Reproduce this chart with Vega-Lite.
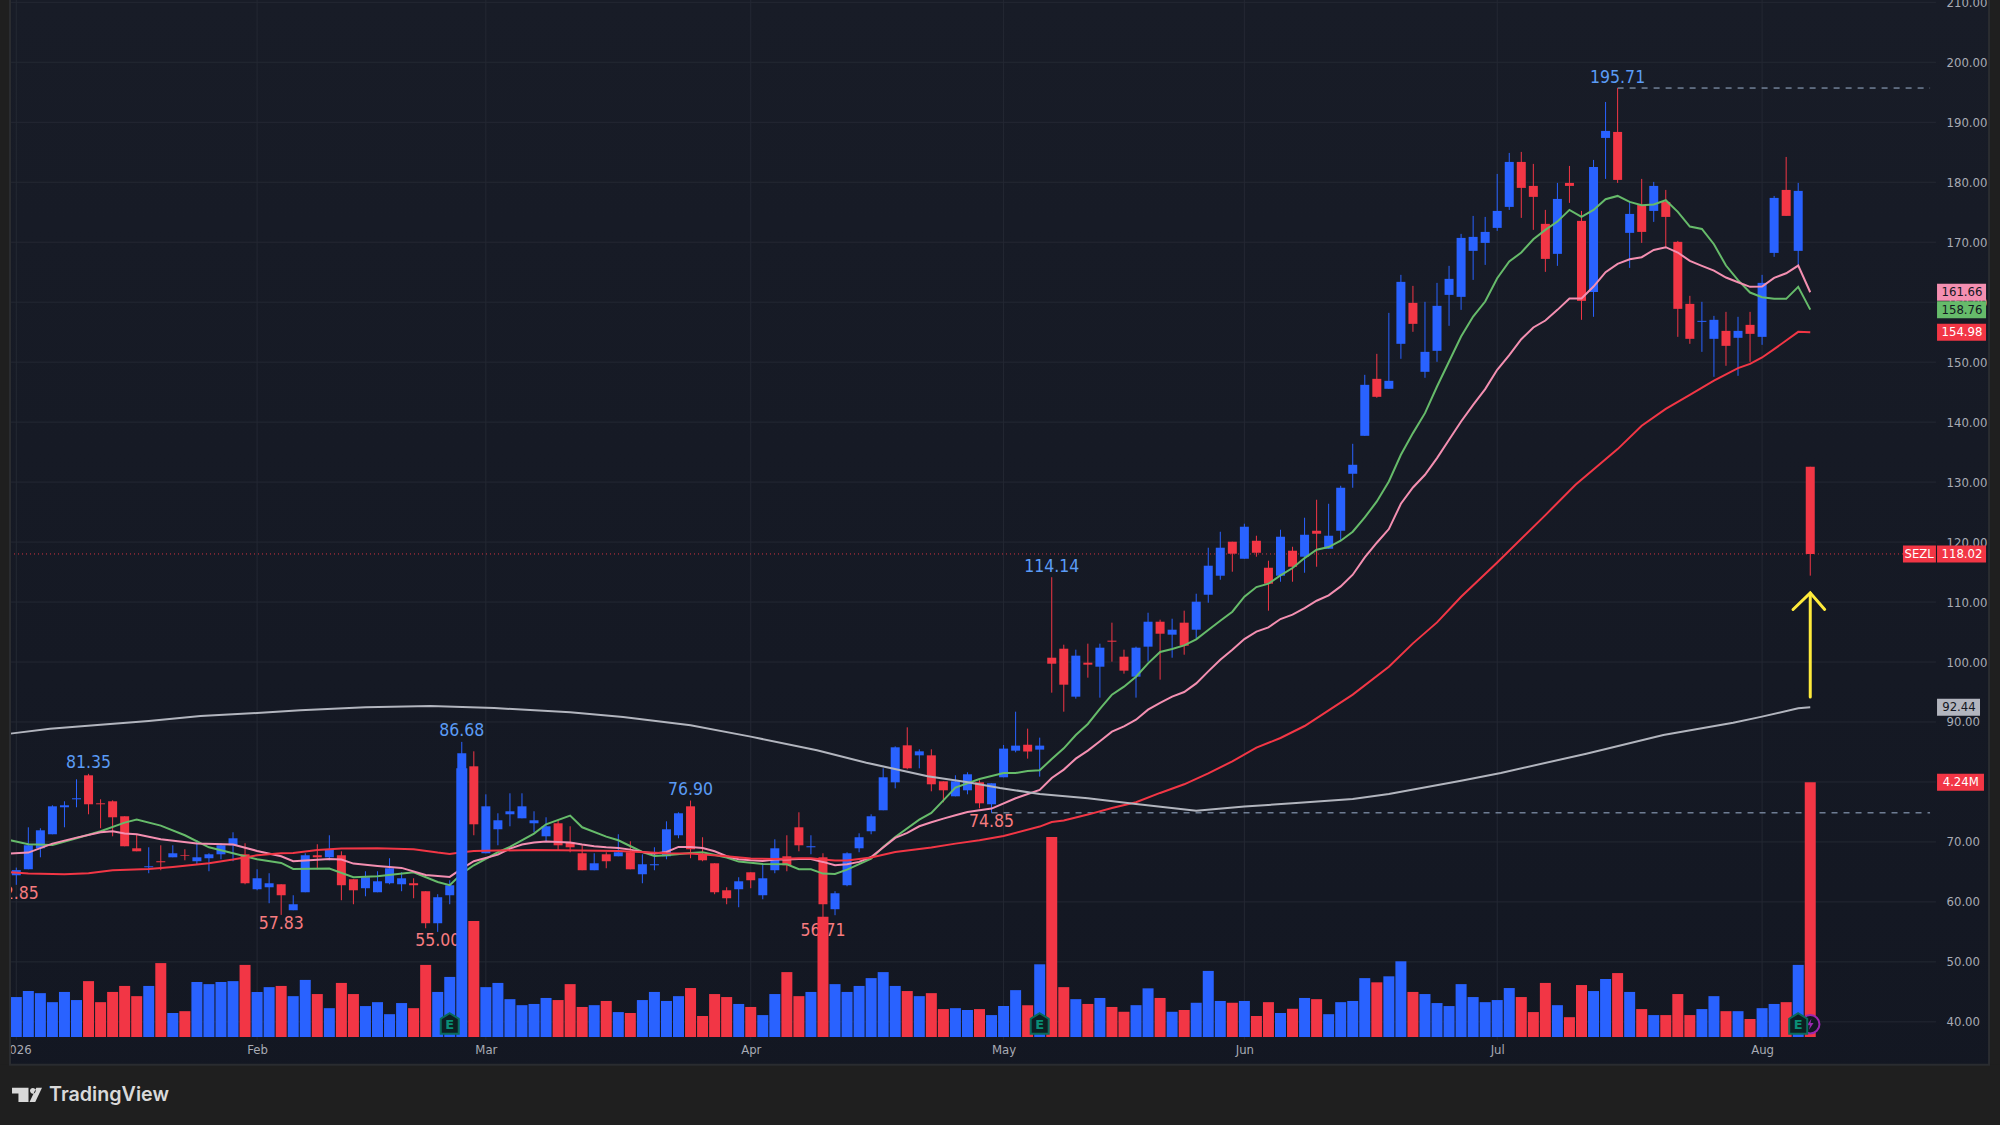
{
"$schema":"https://vega.github.io/schema/vega-lite/v6.json",
"width":2000,"height":1125,"padding":0,"autosize":{"type":"none"},
"background":"#1f1f1f",
"view":{"stroke":null,"fill":{"gradient":"linear","x1":0,"y1":0,"x2":0,"y2":1,"stops":[{"offset":0,"color":"#181c27"},{"offset":1,"color":"#131722"}]}},
"config":{"font":"DejaVu Sans Condensed"},
"datasets":{
"bars":[
{"bar":0,"open":64.44,"high":65.72,"low":62.85,"close":65.3,"volume":0.665},
{"bar":1,"open":65.44,"high":72.44,"low":65.44,"close":69.44,"volume":0.765},
{"bar":2,"open":68.94,"high":72.28,"low":67.44,"close":71.94,"volume":0.73},
{"bar":3,"open":71.28,"high":76.11,"low":71.28,"close":75.94,"volume":0.58},
{"bar":4,"open":75.78,"high":76.78,"low":72.44,"close":76.11,"volume":0.75},
{"bar":5,"open":77.11,"high":80.44,"low":75.78,"close":77.28,"volume":0.615},
{"bar":6,"open":81.11,"high":81.35,"low":74.61,"close":76.28,"volume":0.93},
{"bar":7,"open":76.44,"high":77.11,"low":72.28,"close":76.28,"volume":0.58},
{"bar":8,"open":76.78,"high":76.94,"low":70.94,"close":74.11,"volume":0.75},
{"bar":9,"open":74.28,"high":74.28,"low":69.28,"close":69.28,"volume":0.85},
{"bar":10,"open":68.94,"high":71.28,"low":68.44,"close":68.44,"volume":0.68},
{"bar":11,"open":65.78,"high":69.11,"low":64.78,"close":65.94,"volume":0.85},
{"bar":12,"open":66.78,"high":69.44,"low":65.28,"close":66.61,"volume":1.23},
{"bar":13,"open":67.44,"high":69.44,"low":67.44,"close":68.11,"volume":0.4},
{"bar":14,"open":67.78,"high":68.78,"low":66.94,"close":67.67,"volume":0.43},
{"bar":15,"open":66.78,"high":70.28,"low":66.28,"close":67.44,"volume":0.915},
{"bar":16,"open":67.28,"high":68.11,"low":65.11,"close":67.94,"volume":0.88},
{"bar":17,"open":67.94,"high":69.78,"low":67.11,"close":69.44,"volume":0.915},
{"bar":18,"open":69.44,"high":71.61,"low":66.78,"close":70.61,"volume":0.93},
{"bar":19,"open":67.94,"high":69.78,"low":62.94,"close":63.11,"volume":1.2},
{"bar":20,"open":62.11,"high":65.44,"low":61.94,"close":63.94,"volume":0.75},
{"bar":21,"open":62.44,"high":64.78,"low":59.78,"close":63.11,"volume":0.83},
{"bar":22,"open":62.94,"high":62.94,"low":57.83,"close":61.11,"volume":0.85},
{"bar":23,"open":58.61,"high":61.11,"low":58.61,"close":59.61,"volume":0.68},
{"bar":24,"open":61.61,"high":68.11,"low":61.61,"close":67.78,"volume":0.95},
{"bar":25,"open":67.78,"high":69.61,"low":65.44,"close":67.44,"volume":0.715},
{"bar":26,"open":67.44,"high":71.11,"low":66.94,"close":68.78,"volume":0.48},
{"bar":27,"open":67.78,"high":68.44,"low":60.28,"close":62.78,"volume":0.9},
{"bar":28,"open":63.78,"high":63.78,"low":59.61,"close":61.94,"volume":0.715},
{"bar":29,"open":62.28,"high":65.11,"low":60.94,"close":64.11,"volume":0.515},
{"bar":30,"open":61.61,"high":65.11,"low":61.61,"close":63.44,"volume":0.58},
{"bar":31,"open":63.11,"high":67.28,"low":62.94,"close":65.61,"volume":0.38},
{"bar":32,"open":62.94,"high":64.94,"low":61.78,"close":63.94,"volume":0.565},
{"bar":33,"open":63.11,"high":63.94,"low":60.61,"close":62.78,"volume":0.48},
{"bar":34,"open":61.78,"high":61.78,"low":55.61,"close":56.44,"volume":1.2},
{"bar":35,"open":56.44,"high":61.28,"low":55.0,"close":60.78,"volume":0.75},
{"bar":36,"open":61.11,"high":63.61,"low":59.61,"close":62.78,"volume":1.0},
{"bar":37,"open":62.5,"high":86.68,"low":60.0,"close":84.78,"volume":4.47},
{"bar":38,"open":82.61,"high":85.11,"low":71.11,"close":72.94,"volume":1.93},
{"bar":39,"open":68.11,"high":77.94,"low":68.11,"close":75.94,"volume":0.83},
{"bar":40,"open":72.11,"high":74.78,"low":69.44,"close":73.61,"volume":0.9},
{"bar":41,"open":74.61,"high":78.11,"low":72.61,"close":75.11,"volume":0.63},
{"bar":42,"open":73.94,"high":78.11,"low":73.94,"close":75.94,"volume":0.53},
{"bar":43,"open":73.11,"high":75.11,"low":71.61,"close":73.61,"volume":0.55},
{"bar":44,"open":70.94,"high":74.11,"low":70.11,"close":72.61,"volume":0.65},
{"bar":45,"open":73.11,"high":73.61,"low":68.61,"close":69.44,"volume":0.615},
{"bar":46,"open":69.94,"high":72.61,"low":68.28,"close":69.11,"volume":0.88},
{"bar":47,"open":68.11,"high":69.44,"low":65.28,"close":65.28,"volume":0.5},
{"bar":48,"open":65.28,"high":68.11,"low":65.28,"close":66.44,"volume":0.53},
{"bar":49,"open":67.94,"high":68.28,"low":65.61,"close":66.78,"volume":0.6},
{"bar":50,"open":67.61,"high":71.28,"low":67.61,"close":68.28,"volume":0.415},
{"bar":51,"open":68.28,"high":70.11,"low":65.44,"close":65.44,"volume":0.4},
{"bar":52,"open":64.61,"high":67.94,"low":63.11,"close":66.28,"volume":0.615},
{"bar":53,"open":66.11,"high":69.11,"low":65.28,"close":66.28,"volume":0.75},
{"bar":54,"open":67.61,"high":73.44,"low":67.11,"close":72.11,"volume":0.6},
{"bar":55,"open":71.11,"high":74.94,"low":70.61,"close":74.78,"volume":0.68},
{"bar":56,"open":75.94,"high":76.9,"low":67.28,"close":68.78,"volume":0.815},
{"bar":57,"open":67.94,"high":70.78,"low":66.78,"close":66.94,"volume":0.35},
{"bar":58,"open":66.44,"high":66.44,"low":61.28,"close":61.61,"volume":0.715},
{"bar":59,"open":61.94,"high":62.44,"low":59.61,"close":60.61,"volume":0.665},
{"bar":60,"open":62.11,"high":64.11,"low":59.11,"close":63.44,"volume":0.55},
{"bar":61,"open":64.94,"high":64.94,"low":62.28,"close":63.61,"volume":0.5},
{"bar":62,"open":61.11,"high":66.28,"low":60.44,"close":63.94,"volume":0.365},
{"bar":63,"open":65.28,"high":70.44,"low":64.78,"close":68.94,"volume":0.715},
{"bar":64,"open":67.61,"high":71.11,"low":65.11,"close":66.11,"volume":1.08},
{"bar":65,"open":72.44,"high":74.94,"low":68.44,"close":69.44,"volume":0.68},
{"bar":66,"open":69.11,"high":71.11,"low":67.94,"close":69.28,"volume":0.75},
{"bar":67,"open":67.44,"high":68.11,"low":56.71,"close":59.61,"volume":2.0},
{"bar":68,"open":58.78,"high":61.78,"low":57.78,"close":61.44,"volume":0.88},
{"bar":69,"open":62.78,"high":68.28,"low":62.61,"close":68.11,"volume":0.75},
{"bar":70,"open":68.94,"high":71.44,"low":68.28,"close":70.78,"volume":0.85},
{"bar":71,"open":71.78,"high":74.61,"low":71.28,"close":74.28,"volume":0.98},
{"bar":72,"open":75.28,"high":82.28,"low":75.28,"close":80.78,"volume":1.08},
{"bar":73,"open":79.94,"high":85.94,"low":78.94,"close":85.78,"volume":0.85},
{"bar":74,"open":86.11,"high":89.11,"low":82.11,"close":82.28,"volume":0.765},
{"bar":75,"open":84.44,"high":85.44,"low":82.28,"close":85.11,"volume":0.68},
{"bar":76,"open":84.44,"high":85.44,"low":78.44,"close":79.61,"volume":0.73},
{"bar":77,"open":80.11,"high":80.11,"low":76.61,"close":78.61,"volume":0.465},
{"bar":78,"open":77.61,"high":81.11,"low":77.61,"close":80.11,"volume":0.48},
{"bar":79,"open":78.61,"high":81.61,"low":77.94,"close":81.28,"volume":0.45},
{"bar":80,"open":79.94,"high":80.28,"low":75.61,"close":76.44,"volume":0.465},
{"bar":81,"open":76.28,"high":79.78,"low":74.85,"close":79.78,"volume":0.365},
{"bar":82,"open":80.78,"high":86.17,"low":80.78,"close":85.56,"volume":0.516},
{"bar":83,"open":85.22,"high":91.72,"low":84.94,"close":86.06,"volume":0.78},
{"bar":84,"open":86.22,"high":88.89,"low":83.89,"close":85.06,"volume":0.53},
{"bar":85,"open":85.39,"high":87.39,"low":80.89,"close":86.06,"volume":1.21},
{"bar":86,"open":100.72,"high":114.14,"low":94.89,"close":99.72,"volume":3.33},
{"bar":87,"open":102.22,"high":102.89,"low":91.72,"close":96.22,"volume":0.83},
{"bar":88,"open":94.22,"high":102.06,"low":93.89,"close":101.06,"volume":0.63},
{"bar":89,"open":99.89,"high":103.06,"low":97.39,"close":99.56,"volume":0.55},
{"bar":90,"open":99.22,"high":103.06,"low":94.06,"close":102.39,"volume":0.65},
{"bar":91,"open":103.56,"high":106.56,"low":100.06,"close":103.39,"volume":0.5},
{"bar":92,"open":100.89,"high":102.06,"low":98.06,"close":98.56,"volume":0.42},
{"bar":93,"open":97.56,"high":102.56,"low":94.06,"close":102.39,"volume":0.53},
{"bar":94,"open":102.56,"high":108.22,"low":100.06,"close":106.72,"volume":0.81},
{"bar":95,"open":106.72,"high":107.06,"low":97.06,"close":104.72,"volume":0.65},
{"bar":96,"open":104.56,"high":107.22,"low":100.72,"close":105.39,"volume":0.42},
{"bar":97,"open":106.56,"high":108.56,"low":101.22,"close":102.72,"volume":0.45},
{"bar":98,"open":105.39,"high":111.39,"low":103.89,"close":110.06,"volume":0.57},
{"bar":99,"open":111.22,"high":119.06,"low":109.89,"close":116.06,"volume":1.1},
{"bar":100,"open":114.39,"high":121.72,"low":113.72,"close":119.06,"volume":0.6},
{"bar":101,"open":120.06,"high":120.06,"low":115.06,"close":118.06,"volume":0.57},
{"bar":102,"open":117.22,"high":123.06,"low":117.22,"close":122.56,"volume":0.6},
{"bar":103,"open":120.22,"high":121.06,"low":117.56,"close":118.22,"volume":0.35},
{"bar":104,"open":115.72,"high":116.89,"low":108.56,"close":113.06,"volume":0.58},
{"bar":105,"open":114.39,"high":122.06,"low":113.39,"close":120.89,"volume":0.4},
{"bar":106,"open":118.56,"high":119.22,"low":113.39,"close":115.89,"volume":0.47},
{"bar":107,"open":117.56,"high":124.06,"low":114.89,"close":121.22,"volume":0.65},
{"bar":108,"open":121.89,"high":127.06,"low":115.89,"close":121.39,"volume":0.63},
{"bar":109,"open":118.89,"high":126.39,"low":118.89,"close":121.06,"volume":0.38},
{"bar":110,"open":121.89,"high":129.39,"low":120.22,"close":129.06,"volume":0.58},
{"bar":111,"open":131.39,"high":136.39,"low":129.06,"close":132.89,"volume":0.6},
{"bar":112,"open":137.72,"high":147.89,"low":137.72,"close":146.22,"volume":0.98},
{"bar":113,"open":147.22,"high":151.39,"low":144.06,"close":144.22,"volume":0.91},
{"bar":114,"open":145.56,"high":158.22,"low":145.56,"close":146.89,"volume":1.01},
{"bar":115,"open":153.06,"high":164.56,"low":150.56,"close":163.39,"volume":1.26},
{"bar":116,"open":159.89,"high":162.72,"low":155.06,"close":156.39,"volume":0.75},
{"bar":117,"open":148.39,"high":160.06,"low":147.39,"close":151.72,"volume":0.715},
{"bar":118,"open":151.89,"high":163.22,"low":150.06,"close":159.39,"volume":0.565},
{"bar":119,"open":161.22,"high":166.06,"low":156.06,"close":163.89,"volume":0.515},
{"bar":120,"open":160.89,"high":171.39,"low":158.72,"close":170.72,"volume":0.88},
{"bar":121,"open":168.56,"high":174.39,"low":163.72,"close":170.89,"volume":0.665},
{"bar":122,"open":169.89,"high":174.22,"low":166.22,"close":171.72,"volume":0.58},
{"bar":123,"open":172.39,"high":181.39,"low":171.89,"close":175.22,"volume":0.615},
{"bar":124,"open":175.89,"high":184.89,"low":175.39,"close":183.39,"volume":0.815},
{"bar":125,"open":183.39,"high":185.06,"low":174.06,"close":179.06,"volume":0.665},
{"bar":126,"open":179.39,"high":183.06,"low":172.06,"close":177.56,"volume":0.415},
{"bar":127,"open":173.06,"high":175.39,"low":165.06,"close":167.22,"volume":0.9},
{"bar":128,"open":168.06,"high":179.89,"low":166.06,"close":177.22,"volume":0.53},
{"bar":129,"open":179.89,"high":182.72,"low":176.56,"close":179.39,"volume":0.33},
{"bar":130,"open":173.56,"high":175.22,"low":157.06,"close":160.22,"volume":0.865},
{"bar":131,"open":161.72,"high":183.72,"low":157.56,"close":182.56,"volume":0.765},
{"bar":132,"open":187.39,"high":193.39,"low":180.56,"close":188.56,"volume":0.965},
{"bar":133,"open":188.39,"high":195.71,"low":179.89,"close":180.39,"volume":1.064},
{"bar":134,"open":171.56,"high":176.72,"low":165.72,"close":174.72,"volume":0.75},
{"bar":135,"open":176.22,"high":180.56,"low":169.89,"close":171.72,"volume":0.465},
{"bar":136,"open":175.22,"high":180.06,"low":173.39,"close":179.39,"volume":0.365},
{"bar":137,"open":176.72,"high":178.72,"low":169.22,"close":174.22,"volume":0.365},
{"bar":138,"open":170.06,"high":170.22,"low":154.22,"close":158.89,"volume":0.715},
{"bar":139,"open":159.72,"high":161.06,"low":153.06,"close":153.89,"volume":0.365},
{"bar":140,"open":156.72,"high":160.06,"low":151.72,"close":156.89,"volume":0.465},
{"bar":141,"open":153.89,"high":157.72,"low":147.56,"close":157.06,"volume":0.68},
{"bar":142,"open":155.22,"high":158.39,"low":149.39,"close":152.72,"volume":0.43},
{"bar":143,"open":154.06,"high":157.56,"low":147.72,"close":155.22,"volume":0.43},
{"bar":144,"open":156.22,"high":158.39,"low":150.06,"close":154.72,"volume":0.3},
{"bar":145,"open":154.22,"high":164.56,"low":152.89,"close":163.22,"volume":0.48},
{"bar":146,"open":168.22,"high":177.72,"low":167.56,"close":177.39,"volume":0.55},
{"bar":147,"open":178.72,"high":184.22,"low":174.39,"close":174.39,"volume":0.58},
{"bar":148,"open":168.56,"high":179.89,"low":166.06,"close":178.56,"volume":1.2},
{"bar":149,"open":132.56,"high":132.56,"low":114.4,"close":118.02,"volume":4.24}
],
"ma":[
{"s":"g","bar":-0.5,"v":70.28},{"s":"g","bar":1,"v":69.61},{"s":"g","bar":3,"v":69.5},{"s":"g","bar":5,"v":70.61},{"s":"g","bar":7,"v":71.78},{"s":"g","bar":9,"v":73.22},{"s":"g","bar":10,"v":73.72},{"s":"g","bar":12,"v":72.72},{"s":"g","bar":14,"v":71.11},{"s":"g","bar":16,"v":69.11},{"s":"g","bar":18,"v":68.11},{"s":"g","bar":20,"v":67.11},{"s":"g","bar":22,"v":66.5},{"s":"g","bar":23,"v":65.5},{"s":"g","bar":26,"v":65.56},{"s":"g","bar":28,"v":64.11},{"s":"g","bar":30,"v":64.28},{"s":"g","bar":33,"v":64.94},{"s":"g","bar":35,"v":63.33},{"s":"g","bar":36,"v":62.78},{"s":"g","bar":37,"v":64.72},{"s":"g","bar":38,"v":66.11},{"s":"g","bar":40,"v":68.28},{"s":"g","bar":41,"v":69.17},{"s":"g","bar":43,"v":71.39},{"s":"g","bar":44,"v":72.94},{"s":"g","bar":46,"v":74.39},{"s":"g","bar":47,"v":72.44},{"s":"g","bar":49,"v":70.89},{"s":"g","bar":50,"v":70.28},{"s":"g","bar":52,"v":68.33},{"s":"g","bar":53,"v":67.67},{"s":"g","bar":54,"v":67.78},{"s":"g","bar":56,"v":68.17},{"s":"g","bar":57,"v":68.28},{"s":"g","bar":59,"v":67.39},{"s":"g","bar":60,"v":66.72},{"s":"g","bar":62,"v":66.33},{"s":"g","bar":64,"v":66.28},{"s":"g","bar":65,"v":65.44},{"s":"g","bar":66,"v":65.44},{"s":"g","bar":67,"v":64.72},{"s":"g","bar":68,"v":64.67},{"s":"g","bar":69,"v":65.39},{"s":"g","bar":71,"v":67.22},{"s":"g","bar":72,"v":69.17},{"s":"g","bar":73,"v":70.83},{"s":"g","bar":75,"v":73.72},{"s":"g","bar":76,"v":74.83},{"s":"g","bar":77,"v":76.94},{"s":"g","bar":78,"v":79.06},{"s":"g","bar":80,"v":80.5},{"s":"g","bar":82,"v":81.5},{"s":"g","bar":83,"v":81.5},{"s":"g","bar":84,"v":81.83},{"s":"g","bar":85,"v":81.94},{"s":"g","bar":86,"v":83.83},{"s":"g","bar":87,"v":85.61},{"s":"g","bar":88,"v":87.83},{"s":"g","bar":89,"v":89.67},{"s":"g","bar":90,"v":92.17},{"s":"g","bar":91,"v":94.56},{"s":"g","bar":92,"v":95.89},{"s":"g","bar":93,"v":97.56},{"s":"g","bar":94,"v":99.78},{"s":"g","bar":95,"v":101.67},{"s":"g","bar":96,"v":102.17},{"s":"g","bar":97,"v":102.78},{"s":"g","bar":98,"v":103.78},{"s":"g","bar":99,"v":105.33},{"s":"g","bar":100,"v":106.89},{"s":"g","bar":101,"v":108.39},{"s":"g","bar":102,"v":110.89},{"s":"g","bar":103,"v":112.5},{"s":"g","bar":104,"v":113.06},{"s":"g","bar":105,"v":114.44},{"s":"g","bar":106,"v":115.67},{"s":"g","bar":107,"v":117.33},{"s":"g","bar":108,"v":118.72},{"s":"g","bar":109,"v":119.17},{"s":"g","bar":110,"v":120.22},{"s":"g","bar":111,"v":121.72},{"s":"g","bar":112,"v":124.11},{"s":"g","bar":113,"v":126.78},{"s":"g","bar":114,"v":130.11},{"s":"g","bar":115,"v":134.56},{"s":"g","bar":116,"v":138.17},{"s":"g","bar":117,"v":141.5},{"s":"g","bar":118,"v":145.94},{"s":"g","bar":119,"v":150.11},{"s":"g","bar":120,"v":154.28},{"s":"g","bar":121,"v":157.61},{"s":"g","bar":122,"v":160.11},{"s":"g","bar":123,"v":164},{"s":"g","bar":124,"v":166.78},{"s":"g","bar":125,"v":168.28},{"s":"g","bar":126,"v":170.5},{"s":"g","bar":127,"v":172.06},{"s":"g","bar":128,"v":173.44},{"s":"g","bar":129,"v":175.39},{"s":"g","bar":130,"v":174.22},{"s":"g","bar":131,"v":175.39},{"s":"g","bar":132,"v":177.17},{"s":"g","bar":133,"v":177.72},{"s":"g","bar":134,"v":176.72},{"s":"g","bar":135,"v":176.17},{"s":"g","bar":136,"v":176.28},{"s":"g","bar":137,"v":177},{"s":"g","bar":138,"v":175.06},{"s":"g","bar":139,"v":172.61},{"s":"g","bar":140,"v":172.22},{"s":"g","bar":141,"v":169.67},{"s":"g","bar":142,"v":166.11},{"s":"g","bar":143,"v":163.67},{"s":"g","bar":144,"v":161.61},{"s":"g","bar":145,"v":160.83},{"s":"g","bar":146,"v":160.56},{"s":"g","bar":147,"v":160.56},{"s":"g","bar":148,"v":162.56},{"s":"g","bar":149,"v":158.76},
{"s":"p","bar":-0.5,"v":68.06},{"s":"p","bar":1,"v":68.22},{"s":"p","bar":3,"v":69.72},{"s":"p","bar":5,"v":70.72},{"s":"p","bar":7,"v":71.61},{"s":"p","bar":8,"v":71.78},{"s":"p","bar":9,"v":71.39},{"s":"p","bar":10,"v":71.28},{"s":"p","bar":12,"v":70.44},{"s":"p","bar":15,"v":69.72},{"s":"p","bar":18,"v":69.56},{"s":"p","bar":20,"v":68.5},{"s":"p","bar":22,"v":67.61},{"s":"p","bar":23,"v":66.78},{"s":"p","bar":26,"v":67.17},{"s":"p","bar":27,"v":67.06},{"s":"p","bar":28,"v":66.39},{"s":"p","bar":30,"v":66},{"s":"p","bar":32,"v":65.67},{"s":"p","bar":34,"v":64.5},{"s":"p","bar":36,"v":64.17},{"s":"p","bar":37,"v":65.56},{"s":"p","bar":38,"v":66.78},{"s":"p","bar":40,"v":67.89},{"s":"p","bar":41,"v":68.89},{"s":"p","bar":42,"v":69.56},{"s":"p","bar":43,"v":69.89},{"s":"p","bar":44,"v":70.06},{"s":"p","bar":45,"v":70},{"s":"p","bar":46,"v":69.89},{"s":"p","bar":47,"v":69.56},{"s":"p","bar":48,"v":69.28},{"s":"p","bar":49,"v":69.11},{"s":"p","bar":50,"v":69},{"s":"p","bar":51,"v":68.72},{"s":"p","bar":52,"v":68.33},{"s":"p","bar":53,"v":68.06},{"s":"p","bar":54,"v":68.33},{"s":"p","bar":55,"v":69.17},{"s":"p","bar":56,"v":69.17},{"s":"p","bar":57,"v":69},{"s":"p","bar":58,"v":68.44},{"s":"p","bar":59,"v":67.61},{"s":"p","bar":60,"v":67.11},{"s":"p","bar":61,"v":66.94},{"s":"p","bar":62,"v":66.83},{"s":"p","bar":63,"v":67.06},{"s":"p","bar":64,"v":67.06},{"s":"p","bar":65,"v":67.17},{"s":"p","bar":66,"v":67.17},{"s":"p","bar":67,"v":66.67},{"s":"p","bar":68,"v":66.11},{"s":"p","bar":69,"v":66.28},{"s":"p","bar":70,"v":66.67},{"s":"p","bar":71,"v":67.5},{"s":"p","bar":72,"v":69.06},{"s":"p","bar":73,"v":70.67},{"s":"p","bar":74,"v":71.5},{"s":"p","bar":75,"v":72.61},{"s":"p","bar":76,"v":73.28},{"s":"p","bar":77,"v":73.89},{"s":"p","bar":78,"v":74.44},{"s":"p","bar":79,"v":75},{"s":"p","bar":80,"v":75.28},{"s":"p","bar":81,"v":75.56},{"s":"p","bar":83,"v":77.28},{"s":"p","bar":85,"v":78.67},{"s":"p","bar":86,"v":80.67},{"s":"p","bar":87,"v":82.06},{"s":"p","bar":88,"v":83.89},{"s":"p","bar":89,"v":85.22},{"s":"p","bar":90,"v":86.78},{"s":"p","bar":91,"v":88.39},{"s":"p","bar":92,"v":89.28},{"s":"p","bar":93,"v":90.39},{"s":"p","bar":94,"v":92.06},{"s":"p","bar":95,"v":93.17},{"s":"p","bar":96,"v":94.22},{"s":"p","bar":97,"v":95},{"s":"p","bar":98,"v":96.44},{"s":"p","bar":99,"v":98.44},{"s":"p","bar":100,"v":100.39},{"s":"p","bar":101,"v":102.06},{"s":"p","bar":102,"v":103.83},{"s":"p","bar":103,"v":105.06},{"s":"p","bar":104,"v":105.78},{"s":"p","bar":105,"v":107.17},{"s":"p","bar":106,"v":107.89},{"s":"p","bar":107,"v":109},{"s":"p","bar":108,"v":110.22},{"s":"p","bar":109,"v":111.11},{"s":"p","bar":110,"v":112.61},{"s":"p","bar":111,"v":114.56},{"s":"p","bar":112,"v":117.44},{"s":"p","bar":113,"v":119.89},{"s":"p","bar":114,"v":122.17},{"s":"p","bar":115,"v":126.39},{"s":"p","bar":116,"v":129.11},{"s":"p","bar":117,"v":131.22},{"s":"p","bar":118,"v":134},{"s":"p","bar":119,"v":137.06},{"s":"p","bar":120,"v":140.11},{"s":"p","bar":121,"v":142.89},{"s":"p","bar":122,"v":145.5},{"s":"p","bar":123,"v":148.72},{"s":"p","bar":124,"v":151.17},{"s":"p","bar":125,"v":153.83},{"s":"p","bar":126,"v":155.78},{"s":"p","bar":127,"v":156.94},{"s":"p","bar":128,"v":158.72},{"s":"p","bar":129,"v":160.61},{"s":"p","bar":130,"v":160.61},{"s":"p","bar":131,"v":162.61},{"s":"p","bar":132,"v":165},{"s":"p","bar":133,"v":166.39},{"s":"p","bar":134,"v":167.17},{"s":"p","bar":135,"v":167.5},{"s":"p","bar":136,"v":168.72},{"s":"p","bar":137,"v":169.17},{"s":"p","bar":138,"v":168.28},{"s":"p","bar":139,"v":166.89},{"s":"p","bar":140,"v":166.06},{"s":"p","bar":141,"v":165.28},{"s":"p","bar":142,"v":164.11},{"s":"p","bar":143,"v":163.33},{"s":"p","bar":144,"v":162.56},{"s":"p","bar":145,"v":162.61},{"s":"p","bar":146,"v":164.06},{"s":"p","bar":147,"v":164.83},{"s":"p","bar":148,"v":166.11},{"s":"p","bar":149,"v":161.66},
{"s":"r","bar":-0.5,"v":64.94},{"s":"r","bar":1,"v":64.72},{"s":"r","bar":4,"v":64.61},{"s":"r","bar":6,"v":64.78},{"s":"r","bar":8,"v":65.28},{"s":"r","bar":11,"v":65.5},{"s":"r","bar":13,"v":65.83},{"s":"r","bar":16,"v":66.44},{"s":"r","bar":18,"v":67.06},{"s":"r","bar":20,"v":67.78},{"s":"r","bar":22,"v":68.11},{"s":"r","bar":23,"v":68.17},{"s":"r","bar":25,"v":68.67},{"s":"r","bar":27,"v":68.89},{"s":"r","bar":30,"v":68.94},{"s":"r","bar":33,"v":68.78},{"s":"r","bar":35,"v":68.22},{"s":"r","bar":36,"v":68},{"s":"r","bar":37,"v":68.28},{"s":"r","bar":38,"v":68.5},{"s":"r","bar":40,"v":68.56},{"s":"r","bar":43,"v":68.67},{"s":"r","bar":47,"v":68.56},{"s":"r","bar":50,"v":68.5},{"s":"r","bar":54,"v":68.11},{"s":"r","bar":56,"v":68.06},{"s":"r","bar":59,"v":67.61},{"s":"r","bar":61,"v":67.22},{"s":"r","bar":63,"v":67.17},{"s":"r","bar":65,"v":67.28},{"s":"r","bar":66,"v":67.28},{"s":"r","bar":67,"v":67.06},{"s":"r","bar":68,"v":66.89},{"s":"r","bar":69,"v":66.89},{"s":"r","bar":71,"v":67.39},{"s":"r","bar":73,"v":68.33},{"s":"r","bar":76,"v":69.06},{"s":"r","bar":78,"v":69.72},{"s":"r","bar":80,"v":70.28},{"s":"r","bar":82,"v":71},{"s":"r","bar":85,"v":72.56},{"s":"r","bar":86,"v":73.33},{"s":"r","bar":87,"v":73.56},{"s":"r","bar":89,"v":74.56},{"s":"r","bar":91,"v":75.67},{"s":"r","bar":93,"v":76.61},{"s":"r","bar":95,"v":78.17},{"s":"r","bar":97,"v":79.61},{"s":"r","bar":99,"v":81.44},{"s":"r","bar":101,"v":83.44},{"s":"r","bar":103,"v":85.72},{"s":"r","bar":105,"v":87.33},{"s":"r","bar":107,"v":89.33},{"s":"r","bar":109,"v":91.94},{"s":"r","bar":111,"v":94.56},{"s":"r","bar":114,"v":99.22},{"s":"r","bar":116,"v":103.11},{"s":"r","bar":118,"v":106.61},{"s":"r","bar":120,"v":110.89},{"s":"r","bar":123,"v":116.61},{"s":"r","bar":127,"v":124.5},{"s":"r","bar":129.5,"v":129.56},{"s":"r","bar":133,"v":135.5},{"s":"r","bar":135,"v":139.39},{"s":"r","bar":137,"v":142.22},{"s":"r","bar":139,"v":144.56},{"s":"r","bar":141,"v":146.94},{"s":"r","bar":143,"v":149},{"s":"r","bar":144,"v":149.72},{"s":"r","bar":145,"v":150.78},{"s":"r","bar":146,"v":152.17},{"s":"r","bar":147,"v":153.61},{"s":"r","bar":148,"v":155.06},{"s":"r","bar":149,"v":154.98},
{"s":"w","bar":-0.5,"v":88.06},{"s":"w","bar":2.8,"v":88.89},{"s":"w","bar":7,"v":89.56},{"s":"w","bar":11,"v":90.17},{"s":"w","bar":15.3,"v":91},{"s":"w","bar":20,"v":91.5},{"s":"w","bar":23.6,"v":91.94},{"s":"w","bar":29,"v":92.44},{"s":"w","bar":34.4,"v":92.67},{"s":"w","bar":39.7,"v":92.33},{"s":"w","bar":46,"v":91.61},{"s":"w","bar":50.4,"v":90.83},{"s":"w","bar":56,"v":89.44},{"s":"w","bar":61,"v":87.56},{"s":"w","bar":66.5,"v":85.28},{"s":"w","bar":70.6,"v":83.22},{"s":"w","bar":75.7,"v":80.94},{"s":"w","bar":78.9,"v":80},{"s":"w","bar":81.7,"v":79},{"s":"w","bar":85,"v":78},{"s":"w","bar":89,"v":77.28},{"s":"w","bar":93,"v":76.33},{"s":"w","bar":98,"v":75.22},{"s":"w","bar":102,"v":75.89},{"s":"w","bar":106,"v":76.44},{"s":"w","bar":111,"v":77.17},{"s":"w","bar":114,"v":78},{"s":"w","bar":120,"v":80.22},{"s":"w","bar":123.3,"v":81.5},{"s":"w","bar":130.4,"v":84.72},{"s":"w","bar":136.8,"v":87.83},{"s":"w","bar":142.6,"v":89.88},{"s":"w","bar":144.9,"v":90.85},{"s":"w","bar":148,"v":92.3},{"s":"w","bar":149,"v":92.44}
],
"extremes":[
{"bar":0,"value":62.85,"kind":"low"},{"bar":6,"value":81.35,"kind":"high"},{"bar":22,"value":57.83,"kind":"low"},{"bar":35,"value":55.0,"kind":"low"},{"bar":37,"value":86.68,"kind":"high"},{"bar":56,"value":76.9,"kind":"high"},{"bar":67,"value":56.71,"kind":"low"},{"bar":81,"value":74.85,"kind":"low"},{"bar":86,"value":114.14,"kind":"high"},{"bar":133,"value":195.71,"kind":"high"}
],
"hgrid":[{"p":40},{"p":50},{"p":60},{"p":70},{"p":80},{"p":90},{"p":100},{"p":110},{"p":120},{"p":130},{"p":140},{"p":150},{"p":160},{"p":170},{"p":180},{"p":190},{"p":200},{"p":210}],
"vgrid":[{"b":0},{"b":20},{"b":39},{"b":61},{"b":82},{"b":102},{"b":123},{"b":145}],
"badges":[
{"p":161.66,"t":"161.66","bg":"#f48fb1","fg":"#131722"},
{"p":158.76,"t":"158.76","bg":"#66bb6a","fg":"#131722"},
{"p":154.98,"t":"154.98","bg":"#f23645","fg":"#ffffff"},
{"p":118.02,"t":"118.02","bg":"#f23645","fg":"#ffffff"}
],
"arrow":[
{"part":"stem","bar":149,"p":94.18,"o":1},{"part":"stem","bar":149,"p":111.53,"o":2},
{"part":"head","bar":147.57,"p":108.76,"o":1},{"part":"head","bar":149,"p":111.53,"o":2},{"part":"head","bar":150.2,"p":108.76,"o":3}
],
"earn":[{"bar":36},{"bar":85},{"bar":148}]
},
"resolve":{"scale":{"y":"independent"},"axis":{"y":"independent"}},
"layer":[
{
"layer":[
{"data":{"name":"hgrid"},"mark":{"type":"rule","stroke":"#242833","strokeWidth":1},
 "encoding":{
  "y":{"field":"p","type":"quantitative","scale":{"domain":[22.8,210.39],"nice":false,"zero":false},
   "axis":{"title":null,"orient":"right","offset":-64,"values":[40,50,60,70,80,90,100,110,120,130,140,150,160,170,180,190,200,210],"format":".2f","grid":false,"domain":false,"ticks":false,"labelPadding":10,"labelAlign":"left","labelFont":"DejaVu Sans Condensed","labelFontSize":13,"labelColor":"#a8abb4","labelOverlap":false,"labelFlush":false,"labelBound":false,"zindex":0}},
  "x":{"datum":-0.523,"type":"quantitative","scale":{"domain":[-1.354,164.76],"nice":false,"zero":false,"padding":0},
   "axis":{"title":null,"orient":"bottom","offset":-84,"values":[0,20,39,61,82,102,123,145],"labelExpr":"datum.value==0?'2026':datum.value==20?'Feb':datum.value==39?'Mar':datum.value==61?'Apr':datum.value==82?'May':datum.value==102?'Jun':datum.value==123?'Jul':'Aug'","grid":false,"domain":false,"ticks":false,"labelPadding":2,"labelFont":"DejaVu Sans Condensed","labelFontSize":13,"labelColor":"#a8abb4","labelOverlap":false,"labelFlush":false,"labelBound":false,"zindex":0}},
  "x2":{"datum":159.44}}},
{"data":{"name":"vgrid"},"mark":{"type":"rule","stroke":"#242833","strokeWidth":1},
 "encoding":{"x":{"field":"b","type":"quantitative"},"y":{"datum":37},"y2":{"datum":210.39}}},
{"data":{"values":[{"p":118.02}]},"mark":{"type":"rule","stroke":"#f23645","strokeWidth":1,"strokeDash":[1,3],"opacity":0.85},
 "encoding":{"y":{"field":"p","type":"quantitative"},"x":{"datum":-0.523},"x2":{"datum":156.7}}},
{"data":{"values":[{"bar":133,"p":195.71},{"bar":81,"p":74.85}]},"mark":{"type":"rule","stroke":"#9db2ce","strokeWidth":1,"strokeDash":[6,6]},
 "encoding":{"x":{"field":"bar","type":"quantitative"},"y":{"field":"p","type":"quantitative"},"x2":{"datum":158.95}}},
{"data":{"name":"extremes"},"transform":[{"filter":"datum.kind=='high'"}],"mark":{"type":"text","dy":-10.5,"fontSize":17.5,"color":"#5b9cf6","font":"DejaVu Sans Condensed"},
 "encoding":{"x":{"field":"bar","type":"quantitative"},"y":{"field":"value","type":"quantitative"},"text":{"field":"value","type":"quantitative","format":".2f"}}},
{"data":{"name":"extremes"},"transform":[{"filter":"datum.kind=='low'"}],"mark":{"type":"text","dy":9,"fontSize":17.5,"color":"#f77c80","font":"DejaVu Sans Condensed"},
 "encoding":{"x":{"field":"bar","type":"quantitative"},"y":{"field":"value","type":"quantitative"},"text":{"field":"value","type":"quantitative","format":".2f"}}},
{"data":{"name":"bars"},"mark":{"type":"rule","strokeWidth":1},
 "encoding":{"x":{"field":"bar","type":"quantitative"},"y":{"field":"low","type":"quantitative"},"y2":{"field":"high"},
  "color":{"condition":{"test":"datum.close>=datum.open","value":"#2962ff"},"value":"#f23645"}}},
{"data":{"name":"bars"},"mark":{"type":"bar","size":9,"orient":"vertical"},
 "encoding":{"x":{"field":"bar","type":"quantitative"},"y":{"field":"open","type":"quantitative"},"y2":{"field":"close"},
  "color":{"condition":{"test":"datum.close>=datum.open","value":"#2962ff"},"value":"#f23645"}}},
{"data":{"name":"ma"},"mark":{"type":"line","strokeWidth":2,"interpolate":"linear"},
 "encoding":{"x":{"field":"bar","type":"quantitative"},"y":{"field":"v","type":"quantitative"},
  "color":{"field":"s","type":"nominal","legend":null,"scale":{"domain":["w","r","g","p"],"range":["#b2b5be","#f23645","#66bb6a","#f48fb1"]}}}}
]
},
{
"layer":[
{"data":{"name":"bars"},"mark":{"type":"bar","size":11,"orient":"vertical"},
 "encoding":{"x":{"field":"bar","type":"quantitative"},
  "y":{"field":"volume","type":"quantitative","axis":null,"scale":{"domain":[-1.464,17.255],"nice":false,"zero":false}},"y2":{"datum":0},
  "color":{"condition":{"test":"datum.close>=datum.open","value":"#2962ff"},"value":"#f23645"}}},
{"data":{"values":[{"v":4.24}]},"mark":{"type":"rule","stroke":"#f23645","strokeWidth":17},
 "encoding":{"y":{"field":"v","type":"quantitative","axis":null},"x":{"datum":159.53},"x2":{"datum":163.43}}},
{"data":{"values":[{"v":4.24,"t":"4.24M"}]},"mark":{"type":"text","color":"#ffffff","fontSize":13,"baseline":"middle","font":"DejaVu Sans Condensed"},
 "encoding":{"y":{"field":"v","type":"quantitative","axis":null},"x":{"datum":161.5},"text":{"field":"t"}}}
]
},
{
"layer":[
{"data":{"name":"badges"},"mark":{"type":"rule","strokeWidth":17},
 "encoding":{"y":{"field":"p","type":"quantitative","axis":null,"scale":{"domain":[22.8,210.39],"nice":false,"zero":false}},"x":{"datum":159.53},"x2":{"datum":163.6},"stroke":{"field":"bg","type":"nominal","scale":null}}},
{"data":{"values":[{"p":118.02}]},"mark":{"type":"rule","stroke":"#f23645","strokeWidth":17},
 "encoding":{"y":{"field":"p","type":"quantitative","axis":null},"x":{"datum":156.7},"x2":{"datum":159.44}}},
{"data":{"values":[{"p":92.44}]},"mark":{"type":"rule","stroke":"#b2b5be","strokeWidth":17},
 "encoding":{"y":{"field":"p","type":"quantitative","axis":null},"x":{"datum":159.53},"x2":{"datum":163.1}}},
{"data":{"name":"badges"},"mark":{"type":"text","fontSize":13,"baseline":"middle","font":"DejaVu Sans Condensed"},
 "encoding":{"y":{"field":"p","type":"quantitative","axis":null},"x":{"datum":161.6},"text":{"field":"t"},"color":{"field":"fg","type":"nominal","scale":null}}},
{"data":{"values":[{"p":118.02,"t":"SEZL"}]},"mark":{"type":"text","fontSize":13,"baseline":"middle","color":"#ffffff","font":"DejaVu Sans Condensed"},
 "encoding":{"y":{"field":"p","type":"quantitative","axis":null},"x":{"datum":158.05},"text":{"field":"t"}}},
{"data":{"values":[{"p":92.44,"t":"92.44"}]},"mark":{"type":"text","fontSize":13,"baseline":"middle","color":"#131722","font":"DejaVu Sans Condensed"},
 "encoding":{"y":{"field":"p","type":"quantitative","axis":null},"x":{"datum":161.35},"text":{"field":"t"}}},
{"data":{"name":"arrow"},"mark":{"type":"line","stroke":"#ffeb3b","strokeWidth":3,"strokeCap":"round"},
 "encoding":{"x":{"field":"bar","type":"quantitative"},"y":{"field":"p","type":"quantitative","axis":null},"order":{"field":"o","type":"quantitative"},"detail":{"field":"part"}}},
{"data":{"values":[{"bar":149,"p":39.6}]},"mark":{"type":"point","filled":true,"shape":"circle","size":340,"fill":"#131722","stroke":"#9c27b0","strokeWidth":2,"opacity":1},
 "encoding":{"x":{"field":"bar","type":"quantitative"},"y":{"field":"p","type":"quantitative","axis":null}}},
{"data":{"values":[{"bar":149,"p":39.6}]},"mark":{"type":"point","filled":true,"shape":"M0.2,-0.95 L-0.55,0.15 L-0.05,0.15 L-0.2,0.95 L0.55,-0.2 L0.05,-0.2 Z","size":140,"fill":"#9c27b0","opacity":1},
 "encoding":{"x":{"field":"bar","type":"quantitative"},"y":{"field":"p","type":"quantitative","axis":null}}},
{"data":{"name":"earn"},"mark":{"type":"point","filled":true,"shape":"M0,-1.1 L0.9,-0.55 L0.9,0.95 L-0.9,0.95 L-0.9,-0.55 Z","size":400,"fill":"#0d1f22","stroke":"#0a6b5b","strokeWidth":2,"opacity":1},
 "encoding":{"x":{"field":"bar","type":"quantitative"},"y":{"datum":39.6,"axis":null}}},
{"data":{"name":"earn"},"mark":{"type":"text","text":"E","fontSize":13,"fontWeight":"bold","color":"#0a8f76","baseline":"middle","font":"DejaVu Sans"},
 "encoding":{"x":{"field":"bar","type":"quantitative"},"y":{"datum":39.4,"axis":null}}},
{"mark":{"type":"rect","fill":"#1f1f1f"},"data":{"values":[{}]},"encoding":{"x":{"datum":-1.354},"x2":{"datum":-0.523},"y":{"datum":22.8,"axis":null},"y2":{"datum":210.39}}},
{"mark":{"type":"rect","fill":"#1f1f1f"},"data":{"values":[{}]},"encoding":{"x":{"datum":163.85},"x2":{"datum":164.76},"y":{"datum":22.8,"axis":null},"y2":{"datum":210.39}}},
{"mark":{"type":"rect","fill":"#1f1f1f"},"data":{"values":[{}]},"encoding":{"x":{"datum":-1.354},"x2":{"datum":164.76},"y":{"datum":22.8,"axis":null},"y2":{"datum":32.83}}},
{"mark":{"type":"rect","fill":null,"fillOpacity":0,"stroke":"#2a2c30","strokeWidth":2},"data":{"values":[{}]},"encoding":{"x":{"datum":-0.523},"x2":{"datum":163.85},"y":{"datum":32.83,"axis":null},"y2":{"datum":212}}},
{"data":{"values":[{}]},"mark":{"type":"point","filled":true,"opacity":1,"size":900,"fill":"#d9d9d9","shape":"M-1,-0.47 L0.1,-0.47 L0.1,0.47 L-0.57,0.47 L-0.57,-0.09 L-1,-0.09 Z M0.2,-0.27 A0.19,0.19 0 1 0 0.58,-0.27 A0.19,0.19 0 1 0 0.2,-0.27 Z M0.62,-0.47 L1,-0.47 L0.55,0.47 L0.17,0.47 Z"},
 "encoding":{"x":{"datum":0.889},"y":{"datum":27.83,"axis":null}}},
{"data":{"values":[{"t":"TradingView"}]},"mark":{"type":"text","align":"left","baseline":"middle","font":"Inter","fontSize":19.7,"fontWeight":600,"color":"#d9d9d9"},
 "encoding":{"x":{"datum":2.716},"y":{"datum":27.83,"axis":null},"text":{"field":"t"}}}
]
}
]
}
